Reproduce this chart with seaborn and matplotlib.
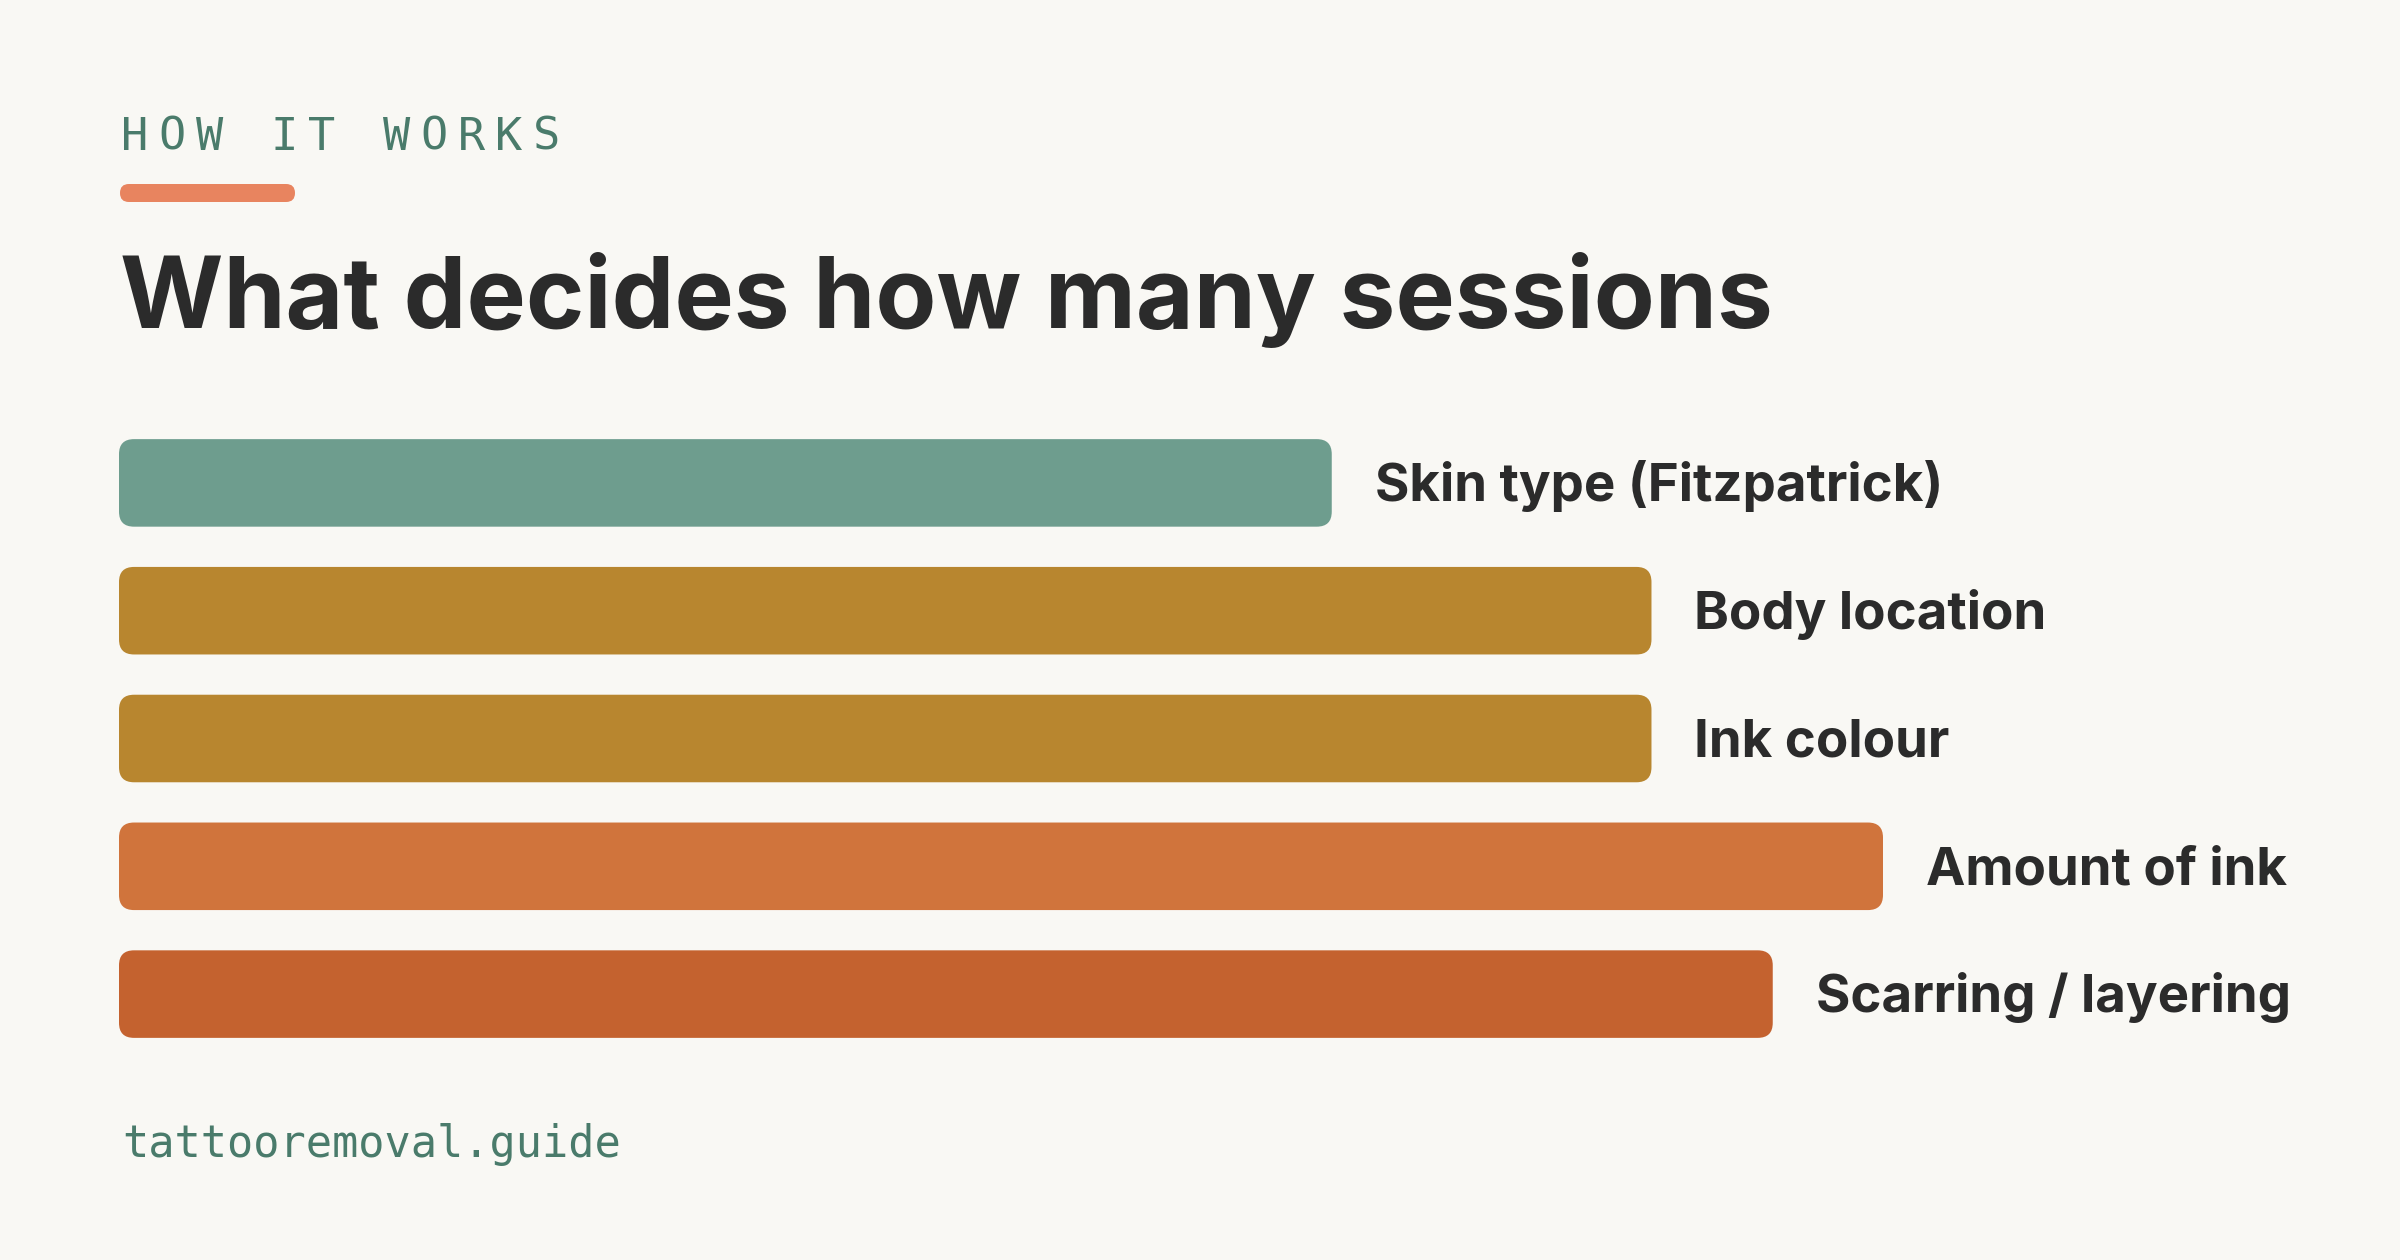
import matplotlib
matplotlib.use("Agg")
import matplotlib.pyplot as plt
from matplotlib.patches import FancyBboxPatch
import pandas as pd
import seaborn as sb

# data (share of the full scale, 0-100)
factors = ["Skin type (Fitzpatrick)", "Body location", "Ink colour", "Amount of ink", "Scarring / layering"]
weights = [55, 69.5, 69.5, 80, 75]
bar_colours = ["#6e9d8e", "#b8862f", "#b8862f", "#d0743c", "#c4622f"]

kicker = "HOW IT WORKS"
title = "What decides how many sessions"
footer = "tattooremoval.guide"

BG = "#f9f8f4"
GREEN = "#4a7b6b"
INK = "#2b2b2b"
W, H = 2400, 1260

sb.set_theme(style="white")
plt.rcParams["font.family"] = ["Inter", "DejaVu Sans"]

df = pd.DataFrame({"factor": factors, "weight": weights})

fig = plt.figure(figsize=(12, 6.3), dpi=200, facecolor=BG)
# axes placed in pixels: left 119, top 419, bottom 1058
ax = fig.add_axes([119 / W, 1 - 1058 / H, 2205 / W, 639 / H])
ax.set_facecolor(BG)

sb.barplot(data=df, x="weight", y="factor", hue="factor", palette=bar_colours,
           legend=False, width=0.685, ax=ax, errorbar=None, saturation=1)
ax.set_xlim(0, 100)
ax.set_ylim(4.5, -0.5)

# swap plain bars for rounded ones
px_x = 2205 / 100.0
px_y = 639 / 5.0
radius_px = 15
for patch in list(ax.patches):
    x0, y0 = patch.get_x(), patch.get_y()
    w, h = patch.get_width(), patch.get_height()
    fc = patch.get_facecolor()
    patch.remove()
    rb = FancyBboxPatch((x0, y0), w, h,
                        boxstyle=f"round,pad=0,rounding_size={radius_px / px_x}",
                        mutation_aspect=px_x / px_y,
                        facecolor=fc, edgecolor="none", linewidth=0)
    ax.add_patch(rb)

for i, (lab, val) in enumerate(zip(factors, weights)):
    ax.text(val + 43 / px_x, i + 18 / px_y, lab, ha="left", va="baseline",
            fontsize=19, fontweight="bold", color=INK)

ax.set_xlabel("")
ax.set_ylabel("")
ax.set_xticks([])
ax.set_yticks([])
sb.despine(ax=ax, left=True, bottom=True)

# kicker with letter spacing
pitch = 37.4
for k, ch in enumerate(kicker):
    fig.text((121 + k * pitch) / W, 1 - 150 / H, ch, fontsize=16.3,
             family=["DejaVu Sans Mono"], color=GREEN, ha="left", va="baseline")

# accent line
fig.patches.append(FancyBboxPatch((120 / W, 1 - 202 / H), 175 / W, 18 / H,
                                  boxstyle="round,pad=0,rounding_size=0.0037",
                                  mutation_aspect=W / H,
                                  transform=fig.transFigure, facecolor="#e8845f",
                                  edgecolor="none", figure=fig))

fig.text(120 / W, 1 - 328 / H, title, fontsize=35.9, fontweight="bold",
         color=INK, ha="left", va="baseline")

fig.text(122 / W, 1 - 1157 / H, footer, fontsize=15.7, family=["DejaVu Sans Mono"],
         color=GREEN, ha="left", va="baseline")

plt.savefig("out.png", dpi=200, facecolor=BG)
